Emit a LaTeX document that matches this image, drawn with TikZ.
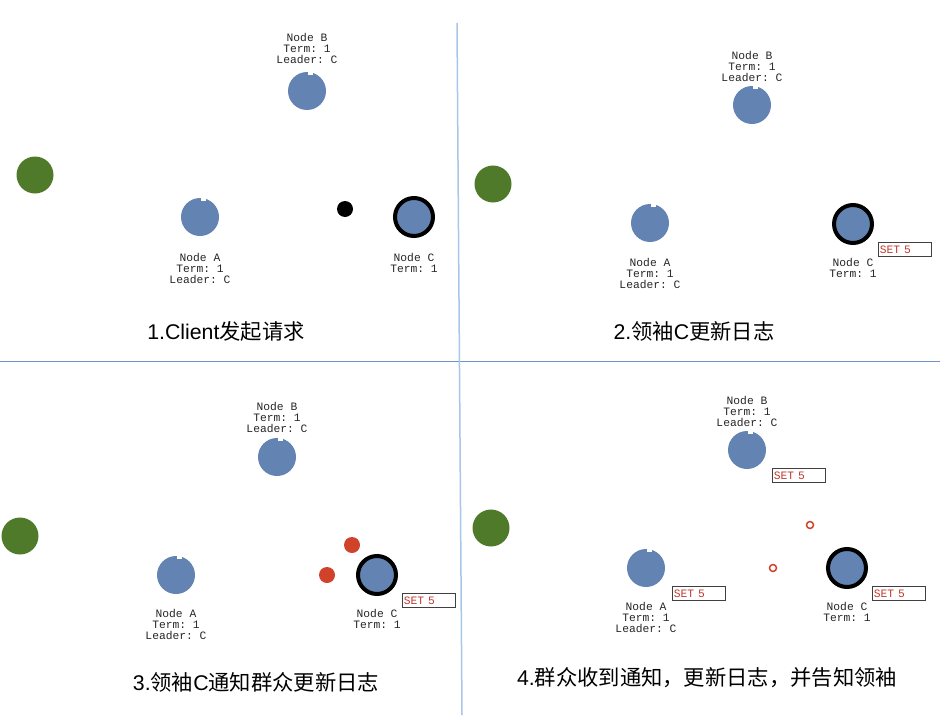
\documentclass[tikz,border=0pt]{standalone}
\usepackage{fontspec}
\setmainfont{Liberation Sans}
\setmonofont{Liberation Mono}
\newfontfamily\cjk{Noto Sans CJK SC}
\definecolor{raftblue}{HTML}{6383B3}
\definecolor{clientgreen}{HTML}{4E7A29}
\definecolor{msgred}{HTML}{D0432A}
\definecolor{logred}{HTML}{C0392B}
\definecolor{hsplit}{HTML}{7093C6}
\definecolor{vsplit}{HTML}{A8C5EA}
\newcommand{\infofont}{\ttfamily\fontsize{11.3}{11}\selectfont}
\newcommand{\titlefont}{\fontsize{21.3}{24}\selectfont}
\newcommand{\notch}[1]{\fill[white] ([xshift=0.5pt,yshift=1pt]#1.north) rectangle ([xshift=6pt,yshift=-3pt]#1.north);}
\tikzset{
  raft/.style={circle, fill=raftblue, minimum size=38pt, inner sep=0pt},
  leadernode/.style={raft, draw=black, line width=4pt},
  client/.style={circle, fill=clientgreen, minimum size=37pt, inner sep=0pt},
  info/.style={align=center, font=\infofont, inner sep=0pt, anchor=north, text=black!85},
  logbox/.style={draw=black!75, line width=0.8pt, anchor=north west, text width=50pt, align=left,
    inner xsep=1.5pt, inner ysep=0pt, minimum height=14pt, font=\infofont, text=logred},
  steptitle/.style={font=\titlefont, inner sep=0pt},
  msg/.style={circle, fill=msgred, minimum size=16pt, inner sep=0pt},
  ack/.style={circle, draw=msgred, line width=1.5pt, minimum size=7pt, inner sep=0pt},
}

\begin{document}
\begin{tikzpicture}[x=1pt,y=-1pt]
\useasboundingbox (0,0) rectangle (940,720);
%% the split lines
\draw[hsplit,line width=1pt] (0,361)--(940,361);
\draw[vsplit,line width=1.5pt] (457,23)--(462,715);
%% first panel
\node[client] (cl1) at (35,175) {};
\node[raft] (b1) at (307,91) {};
\notch{b1}
\node[info] (bl1) at (307,33) {Node B\\Term: 1\\Leader: C};
\node[raft] (a1) at (200,217) {};
\notch{a1}
\node[info] (al1) at (200,253) {Node A\\Term: 1\\Leader: C};
\node[circle,fill=black,minimum size=16pt,inner sep=0pt] (req) at (345,209) {};
\node[leadernode] (c1) at (414,217) {};
\node[info] (cl1t) at (414,253) {Node C\\Term: 1};
\node[steptitle] (t1) at (226,331) {1.Client{\cjk 发起请求}};
%% second panel
\node[client] (cl2) at (493,184) {};
\node[raft] (b2) at (752,105) {};
\notch{b2}
\node[info] (bl2) at (752,51) {Node B\\Term: 1\\Leader: C};
\node[raft] (a2) at (650,223) {};
\notch{a2}
\node[info] (al2) at (650,258) {Node A\\Term: 1\\Leader: C};
\node[leadernode] (c2) at (853,224) {};
\node[info] (cl2t) at (853,258) {Node C\\Term: 1};
\node[logbox] (log2c) at (878,242) {SET 5};
\node[steptitle] (t2) at (694,331) {2.{\cjk 领袖}C{\cjk 更新日志}};
%% third panel
\node[client] (cl3) at (20,536) {};
\node[raft] (b3) at (277,457) {};
\notch{b3}
\node[info] (bl3) at (277,402) {Node B\\Term: 1\\Leader: C};
\node[raft] (a3) at (176,575) {};
\notch{a3}
\node[info] (al3) at (176,609) {Node A\\Term: 1\\Leader: C};
\node[msg] (m3b) at (352,545) {};
\node[msg] (m3a) at (327,575) {};
\node[leadernode] (c3) at (377,575) {};
\node[info] (cl3t) at (377,609) {Node C\\Term: 1};
\node[logbox] (log3c) at (402,593) {SET 5};
\node[steptitle] (t3) at (256,682) {3.{\cjk 领袖}C{\cjk 通知群众更新日志}};
%% fourth panel
\node[client] (cl4) at (491,528) {};
\node[raft] (b4) at (747,450) {};
\notch{b4}
\node[info] (bl4) at (747,396) {Node B\\Term: 1\\Leader: C};
\node[logbox] (log4b) at (772,468) {SET 5};
\node[ack] (k4b) at (810,525) {};
\node[ack] (k4a) at (773,568) {};
\node[raft] (a4) at (646,568) {};
\notch{a4}
\node[info] (al4) at (646,602) {Node A\\Term: 1\\Leader: C};
\node[logbox] (log4a) at (672,586) {SET 5};
\node[leadernode] (c4) at (847,568) {};
\node[info] (cl4t) at (847,602) {Node C\\Term: 1};
\node[logbox] (log4c) at (872,586) {SET 5};
\node[steptitle] (t4) at (707,678) {4.{\cjk 群众收到通知，更新日志，并告知领袖}};
\end{tikzpicture}
\end{document}
